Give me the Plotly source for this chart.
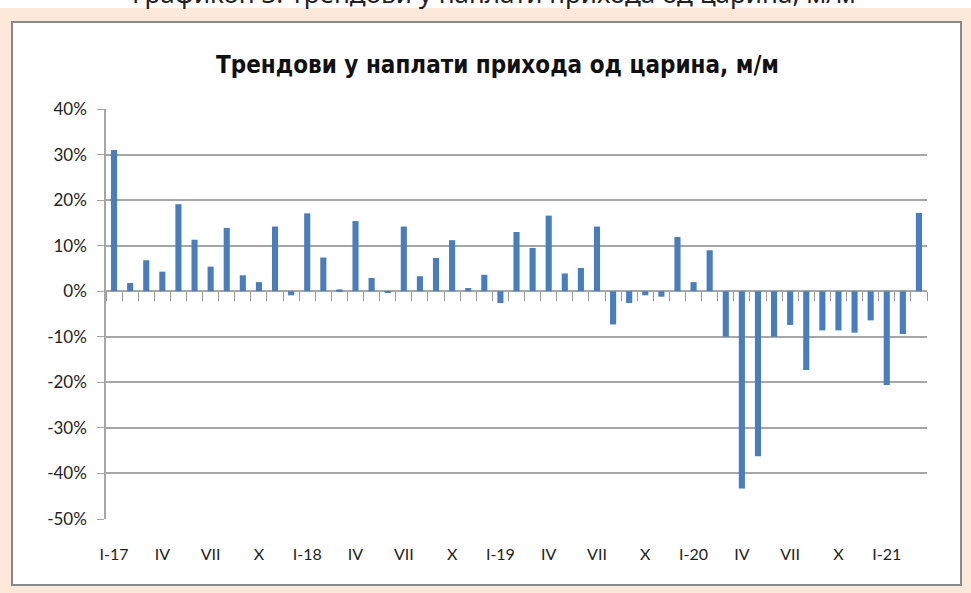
import plotly.graph_objects as go

months = ["I", "II", "III", "IV", "V", "VI", "VII", "VIII", "IX", "X", "XI", "XII"]
categories = []
for yr in ["17", "18", "19", "20", "21"]:
    for m in months:
        categories.append(f"{m}-{yr}")
categories = categories[:51]

values = [
    31.0, 1.8, 6.8, 4.3, 19.1, 11.3, 5.4, 13.9, 3.5, 2.0, 14.2, -0.9,
    17.1, 7.4, 0.4, 15.4, 2.9, -0.3, 14.2, 3.3, 7.3, 11.2, 0.7, 3.6,
    -2.6, 13.0, 9.5, 16.6, 3.9, 5.1, 14.2, -7.3, -2.6, -0.9, -1.2, 11.9,
    2.0, 9.0, -10.0, -43.3, -36.2, -10.0, -7.4, -17.3, -8.6, -8.6, -9.1, -6.4,
    -20.6, -9.4, 17.2,
]
values = [v / 100 for v in values]

tick_idx = list(range(0, 51, 3))
tick_text = ["I-17", "IV", "VII", "X", "I-18", "IV", "VII", "X", "I-19", "IV", "VII", "X",
             "I-20", "IV", "VII", "X", "I-21"]
y_ticks = [-0.5, -0.4, -0.3, -0.2, -0.1, 0, 0.1, 0.2, 0.3, 0.4]
y_tick_text = ["-50%", "-40%", "-30%", "-20%", "-10%", "0%", "10%", "20%", "30%", "40%"]
y_min, y_max = -0.5, 0.4

chart_title = "Трендови у наплати прихода од царина, м/м"
page_title = "Графикон 3. Трендови у наплати прихода од царина, м/м"

x_idx = list(range(len(values)))

fig = go.Figure()
fig.add_trace(go.Bar(x=x_idx, y=values, marker_color="#4a7dbb", marker_line_width=0,
                     showlegend=False, hoverinfo="skip"))
# helper trace to carry the category-boundary tick axis at zero
fig.add_trace(go.Scatter(x=[-0.5, len(values) - 0.5], y=[0, 0], xaxis="x2", mode="lines",
                         line=dict(width=0, color="rgba(0,0,0,0)"), showlegend=False,
                         hoverinfo="skip"))

W, H = 971, 593
ml, mr, mt, mb = 106, 44, 109, 74
pw, ph = W - ml - mr, H - mt - mb


def px_x(p):
    return (p - ml) / pw


def px_y(p):
    return (H - mb - p) / ph


zero_pos = (0 - y_min) / (y_max - y_min)

fig.update_layout(
    width=W, height=H,
    margin=dict(l=ml, r=mr, t=mt, b=mb, pad=0),
    paper_bgcolor="#fde9d9",
    plot_bgcolor="white",
    bargap=0.62,
    xaxis=dict(
        range=[-0.5, len(values) - 0.5],
        tickmode="array", tickvals=tick_idx, ticktext=tick_text,
        showgrid=False, zeroline=False, showline=False,
        ticks="", ticklabelstandoff=24,
        tickfont=dict(family="Lato, Liberation Sans, sans-serif", size=16, color="#222"),
    ),
    xaxis2=dict(
        overlaying="x", anchor="free", position=zero_pos, side="bottom",
        range=[-0.5, len(values) - 0.5],
        tickmode="array", tickvals=[i - 0.5 for i in range(len(values) + 1)],
        showticklabels=False, ticks="outside", ticklen=9, tickwidth=1, tickcolor="#999",
        showgrid=False, zeroline=False, showline=False,
    ),
    yaxis=dict(
        range=[y_min, y_max], tickmode="array", tickvals=y_ticks, ticktext=y_tick_text,
        showgrid=True, gridcolor="#a6a6a6", gridwidth=1.5,
        zeroline=True, zerolinecolor="#a6a6a6", zerolinewidth=1.5,
        showline=True, linecolor="#a6a6a6", linewidth=1.5,
        ticks="outside", ticklen=7, tickcolor="#a6a6a6", ticklabelstandoff=7,
        tickfont=dict(family="Lato, Liberation Sans, sans-serif", size=17, color="#222"),
    ),
    shapes=[
        dict(type="rect", xref="paper", yref="paper", layer="below",
             x0=px_x(0), x1=px_x(971), y0=px_y(8), y1=px_y(0),
             line=dict(width=0), fillcolor="white"),
        dict(type="rect", xref="paper", yref="paper", layer="below",
             x0=px_x(12), x1=px_x(961), y0=px_y(585), y1=px_y(22),
             line=dict(color="#8a8a8a", width=2), fillcolor="white"),
    ],
    annotations=[
        dict(text=f"<b>{chart_title}</b>", xref="paper", yref="paper",
             x=px_x(497), y=px_y(65), xanchor="center", yanchor="middle", showarrow=False,
             font=dict(family="Liberation Sans Narrow, Arial Narrow, DejaVu Sans Condensed, sans-serif",
                       size=24, color="#111")),
        dict(text=page_title, xref="paper", yref="paper",
             x=px_x(494), y=px_y(13), xanchor="center", yanchor="bottom", showarrow=False,
             font=dict(family="Noto Sans, Open Sans, sans-serif", size=26, color="#222")),
    ],
)

fig.write_html(
    "out.html",
    config={"displayModeBar": False},
    post_script="document.body.style.margin='0';document.body.style.background='#fde9d9';"
                "document.documentElement.style.overflow='hidden';",
)
